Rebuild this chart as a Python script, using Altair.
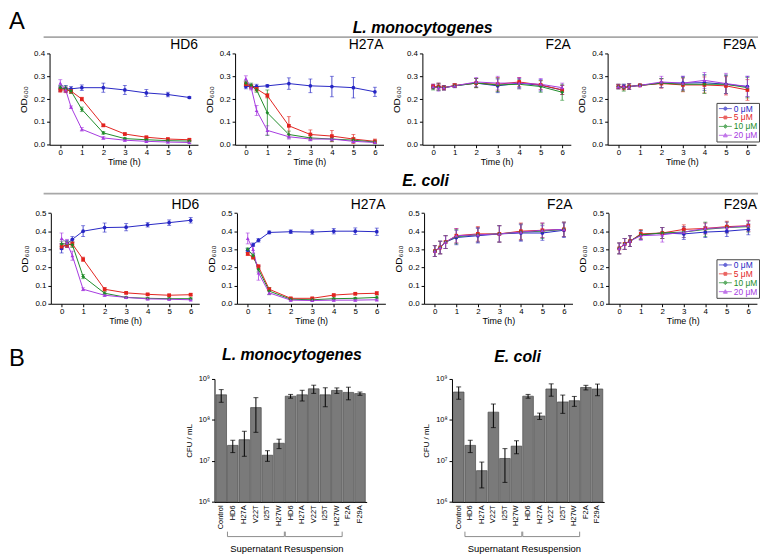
import altair as alt
import pandas as pd

FONT = "Liberation Sans"
W, H = 760, 548

# ---------------- data ----------------
TIMES = [0, 0.25, 0.5, 1, 2, 3, 4, 5, 6]
CONCS = ["0 μM", "5 μM", "10 μM", "20 μM"]
COLORS = ["#2626c4", "#e2231f", "#1e8c28", "#a63ae0"]
SHAPES = ["circle", "square", "diamond", "triangle-up"]

# L. monocytogenes OD600 (rows: 0, 5, 10, 20 uM)
LM_HD6 = [
    [0.245, 0.245, 0.245, 0.250, 0.250, 0.240, 0.227, 0.220, 0.207],
    [0.240, 0.240, 0.235, 0.200, 0.085, 0.047, 0.033, 0.025, 0.022],
    [0.250, 0.245, 0.235, 0.155, 0.052, 0.027, 0.022, 0.018, 0.016],
    [0.270, 0.240, 0.165, 0.068, 0.030, 0.020, 0.015, 0.012, 0.010],
]
LM_HD6_SD = [
    [0.012, 0.015, 0.010, 0.012, 0.020, 0.020, 0.015, 0.010, 0.005],
    [0.010, 0.012, 0.010, 0.008, 0.005, 0.004, 0.004, 0.004, 0.004],
    [0.010, 0.012, 0.010, 0.010, 0.006, 0.004, 0.004, 0.004, 0.004],
    [0.015, 0.010, 0.005, 0.008, 0.006, 0.004, 0.004, 0.004, 0.004],
]
LM_H27A = [
    [0.255, 0.255, 0.255, 0.258, 0.268, 0.258, 0.255, 0.250, 0.232],
    [0.265, 0.255, 0.245, 0.215, 0.083, 0.045, 0.038, 0.025, 0.015],
    [0.270, 0.260, 0.240, 0.140, 0.045, 0.030, 0.025, 0.020, 0.012],
    [0.290, 0.250, 0.150, 0.063, 0.035, 0.025, 0.025, 0.015, 0.010],
]
LM_H27A_SD = [
    [0.010, 0.010, 0.010, 0.005, 0.025, 0.030, 0.045, 0.045, 0.020],
    [0.010, 0.010, 0.010, 0.010, 0.040, 0.020, 0.025, 0.020, 0.010],
    [0.010, 0.010, 0.010, 0.100, 0.015, 0.010, 0.010, 0.010, 0.008],
    [0.012, 0.010, 0.022, 0.020, 0.010, 0.008, 0.008, 0.006, 0.005],
]
LM_F2A = [
    [0.255, 0.255, 0.250, 0.258, 0.270, 0.258, 0.270, 0.260, 0.240],
    [0.255, 0.255, 0.250, 0.260, 0.270, 0.265, 0.275, 0.262, 0.240],
    [0.250, 0.252, 0.250, 0.258, 0.270, 0.262, 0.265, 0.255, 0.230],
    [0.255, 0.250, 0.250, 0.258, 0.275, 0.270, 0.270, 0.265, 0.250],
]
LM_F2A_SD = [
    [0.010, 0.015, 0.010, 0.008, 0.020, 0.030, 0.020, 0.025, 0.020],
    [0.010, 0.015, 0.010, 0.008, 0.020, 0.030, 0.020, 0.020, 0.020],
    [0.010, 0.015, 0.010, 0.008, 0.020, 0.030, 0.020, 0.025, 0.035],
    [0.010, 0.015, 0.010, 0.008, 0.020, 0.030, 0.025, 0.025, 0.020],
]
LM_F29A = [
    [0.255, 0.255, 0.255, 0.260, 0.270, 0.270, 0.272, 0.265, 0.255],
    [0.255, 0.250, 0.255, 0.260, 0.268, 0.262, 0.262, 0.258, 0.240],
    [0.255, 0.250, 0.255, 0.260, 0.270, 0.265, 0.265, 0.265, 0.250],
    [0.255, 0.255, 0.255, 0.260, 0.275, 0.270, 0.282, 0.268, 0.255],
]
LM_F29A_SD = [
    [0.010, 0.010, 0.012, 0.005, 0.020, 0.030, 0.035, 0.040, 0.045],
    [0.010, 0.010, 0.012, 0.005, 0.020, 0.030, 0.035, 0.040, 0.045],
    [0.010, 0.015, 0.012, 0.005, 0.020, 0.030, 0.040, 0.040, 0.045],
    [0.010, 0.010, 0.012, 0.005, 0.025, 0.030, 0.035, 0.045, 0.045],
]

# E. coli OD600
EC_HD6 = [
    [0.305, 0.330, 0.355, 0.400, 0.420, 0.422, 0.435, 0.447, 0.460],
    [0.315, 0.325, 0.330, 0.245, 0.080, 0.060, 0.052, 0.047, 0.050],
    [0.330, 0.330, 0.325, 0.150, 0.058, 0.035, 0.030, 0.028, 0.028],
    [0.360, 0.335, 0.265, 0.080, 0.047, 0.035, 0.027, 0.025, 0.022],
]
EC_HD6_SD = [
    [0.025, 0.020, 0.015, 0.030, 0.025, 0.020, 0.012, 0.015, 0.015],
    [0.015, 0.015, 0.015, 0.012, 0.010, 0.005, 0.005, 0.005, 0.005],
    [0.015, 0.015, 0.015, 0.012, 0.008, 0.005, 0.005, 0.005, 0.005],
    [0.030, 0.020, 0.025, 0.008, 0.006, 0.005, 0.005, 0.005, 0.005],
]
EC_H27A = [
    [0.295, 0.325, 0.350, 0.393, 0.397, 0.395, 0.400, 0.400, 0.397],
    [0.275, 0.255, 0.205, 0.080, 0.030, 0.030, 0.048, 0.055, 0.058],
    [0.300, 0.265, 0.190, 0.070, 0.025, 0.022, 0.028, 0.030, 0.035],
    [0.360, 0.300, 0.170, 0.060, 0.020, 0.018, 0.020, 0.020, 0.022],
]
EC_H27A_SD = [
    [0.010, 0.010, 0.010, 0.008, 0.010, 0.012, 0.015, 0.018, 0.020],
    [0.008, 0.008, 0.010, 0.008, 0.005, 0.005, 0.005, 0.005, 0.008],
    [0.008, 0.010, 0.015, 0.020, 0.005, 0.005, 0.005, 0.005, 0.008],
    [0.030, 0.020, 0.040, 0.010, 0.005, 0.005, 0.005, 0.005, 0.005],
]
EC_F2A = [
    [0.290, 0.310, 0.340, 0.365, 0.375, 0.385, 0.390, 0.390, 0.405],
    [0.290, 0.310, 0.340, 0.375, 0.385, 0.385, 0.400, 0.405, 0.410],
    [0.290, 0.310, 0.340, 0.370, 0.380, 0.385, 0.395, 0.400, 0.410],
    [0.290, 0.310, 0.340, 0.375, 0.380, 0.385, 0.395, 0.405, 0.410],
]
EC_F2A_SD = [
    [0.030, 0.035, 0.035, 0.040, 0.040, 0.045, 0.045, 0.040, 0.040],
    [0.030, 0.035, 0.035, 0.040, 0.040, 0.045, 0.045, 0.040, 0.040],
    [0.030, 0.035, 0.035, 0.040, 0.040, 0.045, 0.045, 0.040, 0.040],
    [0.030, 0.035, 0.035, 0.040, 0.040, 0.045, 0.045, 0.040, 0.040],
]
EC_F29A = [
    [0.305, 0.330, 0.345, 0.380, 0.390, 0.385, 0.395, 0.400, 0.410],
    [0.305, 0.330, 0.345, 0.385, 0.390, 0.410, 0.415, 0.425, 0.430],
    [0.305, 0.330, 0.345, 0.380, 0.390, 0.395, 0.410, 0.420, 0.425],
    [0.305, 0.330, 0.345, 0.375, 0.380, 0.395, 0.415, 0.420, 0.430],
]
EC_F29A_SD = [
    [0.030, 0.030, 0.030, 0.025, 0.030, 0.030, 0.030, 0.030, 0.030],
    [0.030, 0.030, 0.030, 0.025, 0.030, 0.025, 0.030, 0.030, 0.030],
    [0.030, 0.030, 0.030, 0.025, 0.030, 0.030, 0.040, 0.030, 0.030],
    [0.030, 0.030, 0.030, 0.025, 0.040, 0.030, 0.030, 0.030, 0.030],
]

# Part B: CFU / mL
BAR_KEYS = ["Control", "HD6 S", "H27A S", "V22T S", "I25T S", "H27W S",
            "HD6 R", "H27A R", "V22T R", "I25T R", "H27W R", "F2A", "F29A"]
LM_CFU = [4.1e8, 2.4e7, 3.3e7, 2.0e8, 1.38e7, 2.7e7, 3.8e8, 4.1e8, 5.75e8, 4.1e8, 5.25e8, 4.7e8, 4.4e8]
LM_CFU_SD = [1.4e8, 0.8e7, 2.0e7, 1.5e8, 0.4e7, 0.7e7, 0.4e8, 1.2e8, 1.3e8, 2.0e8, 0.8e8, 1.6e8, 0.4e8]
EC_CFU = [4.8e8, 2.4e7, 5.8e6, 1.55e8, 1.15e7, 2.3e7, 3.8e8, 1.25e8, 5.7e8, 2.75e8, 2.95e8, 6.2e8, 5.7e8]
EC_CFU_SD = [1.6e8, 0.8e7, 3.6e6, 0.9e8, 0.85e7, 0.8e7, 0.4e8, 0.22e8, 1.9e8, 1.3e8, 0.8e8, 0.8e8, 1.8e8]
BRACKETS = ["Supernatant", "Resuspension"]
BRACKET_START = ["HD6 S", "HD6 R"]
BRACKET_END = ["H27W S", "H27W R"]
BRACKET_MID = ["V22T S", "V22T R"]

# ---------------- layout (pixels in chart coordinates) ----------------
ROW1_X = [(42.0, 192.0), (229.5, 379.5), (418.8, 568.8), (606.0, 756.0)]
ROW2_X = [(43.3, 193.3), (231.4, 381.4), (420.5, 570.5), (606.9, 756.9)]
ROW1_Y = (135.3, 43.0)
ROW2_Y = (296.0, 204.3)
BAR_X = [(208.7, 362.5), (448.7, 602.5)]
BAR_Y = (496.3, 372.0)

LEGEND_SYMBOLS = [
    "M-1,0H1M-0.25,0A0.25,0.25 0 1,0 0.25,0A0.25,0.25 0 1,0 -0.25,0Z",
    "M-1,0H1M-0.22,-0.22H0.22V0.22H-0.22Z",
    "M-1,0H1M0,-0.3L0.3,0L0,0.3L-0.3,0Z",
    "M-1,0H1M0,-0.3L0.3,0.24L-0.3,0.24Z",
]


def jslist(items):
    return "[" + ",".join("'" + i + "'" for i in items) + "]"


IDX = "indexof(" + jslist(CONCS) + ", datum.value)"


def make_legend(lx, ly):
    return alt.Legend(
        orient="none", legendX=lx, legendY=ly, title=None,
        symbolType=alt.ExprRef(expr=jslist(LEGEND_SYMBOLS) + "[" + IDX + "]"),
        labelColor=alt.ExprRef(expr=jslist(COLORS) + "[" + IDX + "]"),
        symbolStrokeColor=alt.ExprRef(expr=jslist(COLORS) + "[" + IDX + "]"),
        symbolFillColor=alt.ExprRef(expr=jslist(COLORS) + "[" + IDX + "]"),
        symbolSize=170, symbolStrokeWidth=1, labelFontSize=8.5, labelOffset=1,
        labelFont=FONT, padding=1.5, rowPadding=0, strokeColor="#444",
        fillColor="white", symbolOpacity=1, clipHeight=8.5,
    )


def series_frame(means, sds):
    rows = []
    for i, (conc, m, s) in enumerate(zip(CONCS, means, sds)):
        for t, v, e in zip(TIMES, m, s):
            rows.append({"t": t, "conc": conc, "series": i, "od": v,
                         "lo": max(v - e, 0.0), "hi": v + e})
    return pd.DataFrame(rows)


def color_enc(cs, legend, show):
    if show:
        if legend is None:
            return alt.Color("conc:N", scale=cs)
        return alt.Color("conc:N", scale=cs, legend=legend)
    return alt.Color("conc:N", scale=cs, legend=None)


def line_panel(name, means, sds, xr, yr, ymax, legend=None):
    df = series_frame(means, sds)
    show = legend is not None
    xs = alt.Scale(domain=[-0.5, 6.4], range=list(xr), nice=False, zero=False)
    ys = alt.Scale(domain=[0, ymax], range=list(yr), nice=False, zero=False)
    cs = alt.Scale(domain=CONCS, range=COLORS)
    ss = alt.Scale(domain=list(range(len(CONCS))), range=SHAPES)
    yvals = [round(0.1 * i, 1) for i in range(int(round(ymax * 10)) + 1)]
    ytitle = "OD₆₀₀"
    xax = alt.Axis(orient="bottom", offset=yr[0] - H, values=[0, 1, 2, 3, 4, 5, 6],
                   format="d", title="Time (h)", labelPadding=1, titlePadding=1,
                   labelFontSize=8, titleFontSize=9)
    yax = alt.Axis(orient="left", offset=-xr[0], values=yvals, format=".1f",
                   title=ytitle, labelPadding=2, titlePadding=5,
                   labelFontSize=8, titleFontSize=10)
    base = alt.Chart(df)
    lines = base.mark_line(strokeWidth=1).encode(
        x=alt.X("t:Q", scale=xs, axis=xax, title="Time (h)"),
        y=alt.Y("od:Q", scale=ys, axis=yax, title=ytitle),
        color=color_enc(cs, None, show),
    )
    err = base.mark_errorbar(ticks={"size": 4}, thickness=0.8).encode(
        x=alt.X("t:Q", scale=xs, title="Time (h)"),
        y=alt.Y("lo:Q", scale=ys, title=ytitle),
        y2="hi:Q",
        color=color_enc(cs, None, show),
    )
    pts = base.mark_point(filled=True, size=14, opacity=1).encode(
        x=alt.X("t:Q", scale=xs, title="Time (h)"),
        y=alt.Y("od:Q", scale=ys, title=ytitle),
        color=color_enc(cs, legend, show),
        shape=alt.Shape("series:N", scale=ss, legend=None),
    )
    ttl = alt.Chart(pd.DataFrame({"name": [name]})).mark_text(
        align="right", baseline="bottom", fontSize=14, font=FONT, dy=-1, color="black"
    ).encode(
        x=alt.XDatum(6.4, type="quantitative", scale=xs, title="Time (h)"),
        y=alt.YDatum(ymax, type="quantitative", scale=ys, title=ytitle),
        text="name:N",
    )
    return alt.layer(lines, err, pts, ttl)


def bar_panel(vals, sds, xr, yr):
    df = pd.DataFrame({
        "key": BAR_KEYS, "cfu": vals,
        "lo": [v - e for v, e in zip(vals, sds)],
        "hi": [v + e for v, e in zip(vals, sds)],
    })
    ytitle = "CFU / mL"
    xs = alt.Scale(domain=BAR_KEYS, range=list(xr), paddingInner=0.08, paddingOuter=0.12)
    ys = alt.Scale(type="log", domain=[1e6, 1e9], range=list(yr), nice=False)
    xax = alt.Axis(orient="bottom", offset=yr[0] - H, labelAngle=-90,
                   labelExpr="split(datum.label, ' ')[0]", title=None, ticks=False,
                   labelPadding=3, labelFontSize=7.5)
    yax = alt.Axis(orient="left", offset=-xr[0], values=[1e6, 1e7, 1e8, 1e9],
                   labelExpr="'10' + ['⁶','⁷','⁸','⁹'][round(log(datum.value) / LN10) - 6]",
                   title=ytitle, labelFontSize=7.5, titleFontSize=8, titlePadding=5,
                   labelPadding=2)
    base = alt.Chart(df)
    bars = base.mark_bar(fill="#7a7a7a", stroke="#4a4a4a", strokeWidth=0.7).encode(
        x=alt.X("key:N", scale=xs, axis=xax),
        y=alt.Y("cfu:Q", scale=ys, axis=yax, title=ytitle),
        y2=alt.Y2Datum(1e6),
    )
    err = base.mark_errorbar(ticks={"size": 5}, color="black", thickness=1).encode(
        x=alt.X("key:N", scale=xs),
        y=alt.Y("lo:Q", scale=ys, title=ytitle),
        y2="hi:Q",
    )
    br = pd.DataFrame({"name": BRACKETS, "start": BRACKET_START,
                       "end": BRACKET_END, "mid": BRACKET_MID})
    bb = alt.Chart(br)
    yb = 531.3
    hline = bb.mark_rule(color="#8c8c8c", strokeWidth=1).encode(
        x=alt.X("start:N", scale=xs, bandPosition=0),
        x2=alt.X2("end:N", bandPosition=1),
        y=alt.value(yb),
    )
    tick_s = bb.mark_rule(color="#8c8c8c", strokeWidth=1).encode(
        x=alt.X("start:N", scale=xs, bandPosition=0),
        y=alt.value(yb), y2=alt.value(yb - 5),
    )
    tick_e = bb.mark_rule(color="#8c8c8c", strokeWidth=1).encode(
        x=alt.X("end:N", scale=xs, bandPosition=1),
        y=alt.value(yb), y2=alt.value(yb - 5),
    )
    lab = bb.mark_text(baseline="middle", fontSize=9.5, font=FONT, color="black").encode(
        x=alt.X("mid:N", scale=xs),
        y=alt.value(544),
        text="name:N",
    )
    return alt.layer(bars, err, hline, tick_s, tick_e, lab)


def text_mark(s, x, y, size, weight="normal", style="normal", align="left"):
    return alt.Chart(pd.DataFrame({"s": [s]})).mark_text(
        align=align, baseline="alphabetic", fontSize=size, fontWeight=weight,
        fontStyle=style, font=FONT, color="black"
    ).encode(x=alt.value(x), y=alt.value(y), text="s:N")


def gray_line(y):
    return alt.Chart(pd.DataFrame({"a": [0]})).mark_rule(color="#a8a8a8", strokeWidth=1.8).encode(
        x=alt.value(36), x2=alt.value(758), y=alt.value(y))


layers = []
row1 = [("HD6", LM_HD6, LM_HD6_SD), ("H27A", LM_H27A, LM_H27A_SD),
        ("F2A", LM_F2A, LM_F2A_SD), ("F29A", LM_F29A, LM_F29A_SD)]
row2 = [("HD6", EC_HD6, EC_HD6_SD), ("H27A", EC_H27A, EC_H27A_SD),
        ("F2A", EC_F2A, EC_F2A_SD), ("F29A", EC_F29A, EC_F29A_SD)]
for i, (nm, m, s) in enumerate(row1):
    leg = make_legend(716, 93) if i == 3 else None
    layers.append(line_panel(nm, m, s, ROW1_X[i], ROW1_Y, 0.4, leg))
for i, (nm, m, s) in enumerate(row2):
    leg = make_legend(716, 251) if i == 3 else None
    layers.append(line_panel(nm, m, s, ROW2_X[i], ROW2_Y, 0.5, leg))
layers.append(bar_panel(LM_CFU, LM_CFU_SD, BAR_X[0], BAR_Y))
layers.append(bar_panel(EC_CFU, EC_CFU_SD, BAR_X[1], BAR_Y))

layers += [
    text_mark("A", 1, 18, 24),
    text_mark("L. monocytogenes", 419, 22, 16, "bold", "italic", "center"),
    gray_line(26.5),
    text_mark("E. coli", 422, 177, 16, "bold", "italic", "center"),
    gray_line(184.7),
    text_mark("B", 1, 359, 24),
    text_mark("L. monocytogenes", 287, 353, 16, "bold", "italic", "center"),
    text_mark("E. coli", 515, 355, 16, "bold", "italic", "center"),
]

chart = alt.layer(*layers).resolve_scale(
    x="independent", y="independent", color="independent", shape="independent"
).properties(
    width=W, height=H, autosize=alt.AutoSizeParams(type="none"), padding=0
).configure_view(stroke=None).configure_axis(
    grid=False, domainColor="black", tickColor="black", labelColor="black",
    titleColor="black", labelFont=FONT, titleFont=FONT, titleFontWeight="normal",
    tickSize=3, domainWidth=1, tickWidth=1
).configure_text(font=FONT)

chart.save("out.html", embed_options={"renderer": "svg", "actions": False})
